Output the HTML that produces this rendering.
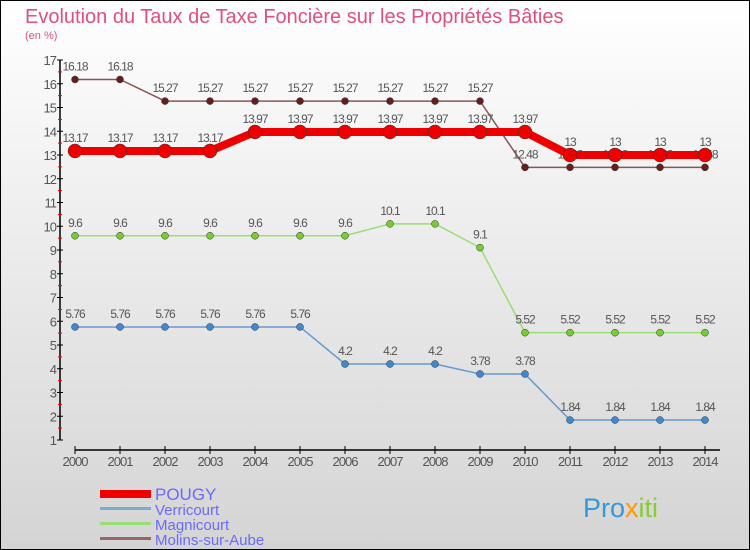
<!DOCTYPE html>
<html><head><meta charset="utf-8"><style>
body{margin:0}
svg{display:block;font-family:"Liberation Sans","DejaVu Sans",sans-serif}
</style></head><body>
<svg id="c" width="750" height="550" viewBox="0 0 750 550">
<defs><linearGradient id="bg" x1="0" y1="0" x2="0" y2="1"><stop offset="0" stop-color="#ffffff"/><stop offset="1" stop-color="#d4d4d4"/></linearGradient></defs>
<rect x="0.5" y="0.5" width="749" height="549" fill="url(#bg)" stroke="#000"/>
<text x="25" y="23" font-size="20" fill="#e0507a">Evolution du Taux de Taxe Foncière sur les Propriétés Bâties</text>
<text x="25" y="39" font-size="11" fill="#e0507a">(en %)</text>
<g id="axes"></g><g id="series"></g>
<g>
<rect x="100" y="490" width="51" height="8" fill="#ee0000"/>
<text x="155" y="500" font-size="17" fill="#6a6aff">POUGY</text>
<rect x="100" y="507" width="51" height="3" fill="#7aaccc"/>
<text x="155" y="515" font-size="15" fill="#6a6aff">Verricourt</text>
<rect x="100" y="522" width="51" height="3" fill="#99dd77"/>
<text x="155" y="530" font-size="15" fill="#6a6aff">Magnicourt</text>
<rect x="100" y="537" width="51" height="3" fill="#996666"/>
<text x="155" y="545" font-size="15" fill="#6a6aff">Molins-sur-Aube</text>
</g>
<text x="583" y="517" font-size="27" fill="#3399dd">Pro<tspan fill="#ff9900">x</tspan><tspan fill="#88cc33">iti</tspan></text>
</svg>
<script>
const years=[2000,2001,2002,2003,2004,2005,2006,2007,2008,2009,2010,2011,2012,2013,2014];
const yTicks=[1,2,3,4,5,6,7,8,9,10,11,12,13,14,15,16,17];
const pougy=[13.17,13.17,13.17,13.17,13.97,13.97,13.97,13.97,13.97,13.97,13.97,13,13,13,13];
const verricourt=[5.76,5.76,5.76,5.76,5.76,5.76,4.2,4.2,4.2,3.78,3.78,1.84,1.84,1.84,1.84];
const magnicourt=[9.6,9.6,9.6,9.6,9.6,9.6,9.6,10.1,10.1,9.1,5.52,5.52,5.52,5.52,5.52];
const molins=[16.18,16.18,15.27,15.27,15.27,15.27,15.27,15.27,15.27,15.27,12.48,12.48,12.48,12.48,12.48];
const NS="http://www.w3.org/2000/svg";
const xS=i=>75+i*45, yS=v=>440-(v-1)*23.75;
function mk(t,a,p){const e=document.createElementNS(NS,t);for(const k in a)e.setAttribute(k,a[k]);p.appendChild(e);return e;}
const ax=document.getElementById('axes');
const yl=mk('line',{x1:60,y1:yS(17),x2:60,y2:yS(1),stroke:'#000','stroke-width':1.5},ax);


const xl=mk('line',{x1:75,y1:450,x2:720,y2:450,stroke:'#000','stroke-width':1.5},ax);


yTicks.forEach(v=>{
 mk('line',{x1:57,x2:63,y1:yS(v),y2:yS(v),stroke:'#000'},ax);
 if(v<17)mk('line',{x1:58,x2:62,y1:yS(v+0.5),y2:yS(v+0.5),stroke:'#e00'},ax);
 const t=mk('text',{x:56,y:yS(v)+5,'text-anchor':'end','font-size':13,fill:'#555','letter-spacing':'-1'},ax);t.textContent=v;
 
 
});
years.forEach((y,i)=>{
 mk('line',{x1:xS(i),x2:xS(i),y1:446,y2:454,stroke:'#000'},ax);
 const t=mk('text',{x:xS(i),y:466,'text-anchor':'middle','font-size':13,fill:'#555','letter-spacing':'-1'},ax);t.textContent=y;
 
 
});
const sg=document.getElementById('series');
function draw(d,name,col,dot,w,r){
 const g=mk('g',{},sg);
 
 
 mk('polyline',{points:d.map((v,i)=>xS(i)+','+yS(v)).join(' '),fill:'none',stroke:col,'stroke-width':w},g);
 d.forEach((v,i)=>{
  const c=mk('circle',{cx:xS(i),cy:yS(v),r:r,fill:dot,stroke:'#333','stroke-width':0.5},g);
  
  
  const t=mk('text',{x:xS(i),y:yS(v)-9,'text-anchor':'middle','font-size':12,fill:'#555','letter-spacing':'-1'},g);t.textContent=v;
  
  
 });
}
draw(molins,'molins','#885555','#661d1d',1.5,3.5);
draw(magnicourt,'magnicourt','#99dd77','#77cc33',1.5,3.5);
draw(verricourt,'verricourt','#6699cc','#3d8ad0',1.5,3.5);
draw(pougy,'pougy','#ee0000','#ee0000',8,7);
</script>
</body></html>
